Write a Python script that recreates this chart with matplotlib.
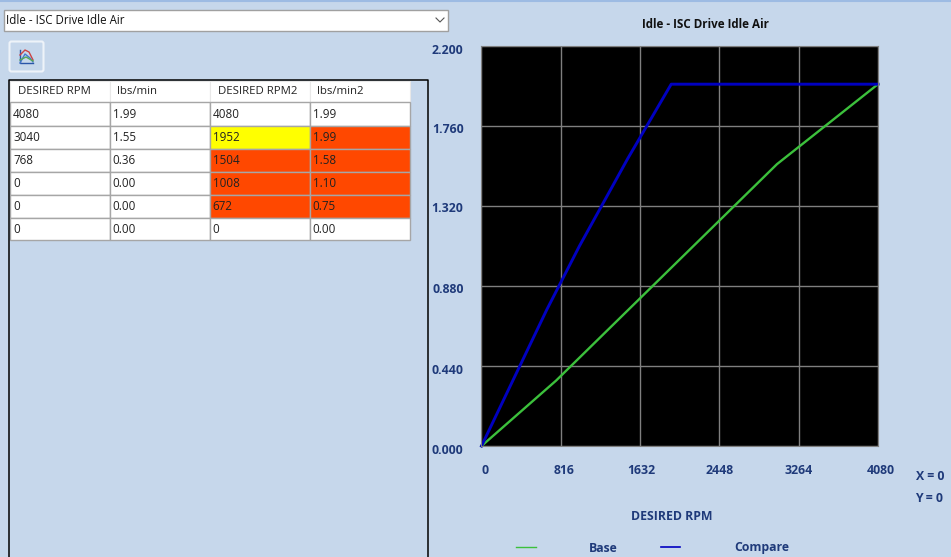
import matplotlib
matplotlib.use('Agg')
import matplotlib.pyplot as plt
from matplotlib.patches import Rectangle, FancyBboxPatch

plt.rcParams['font.family'] = ['Open Sans', 'DejaVu Sans']

columns = ['DESIRED RPM', 'lbs/min', 'DESIRED RPM2', 'lbs/min2']
rpm_base = [4080, 3040, 768, 0, 0, 0]
lbs_base = [1.99, 1.55, 0.36, 0.00, 0.00, 0.00]
rpm_compare = [4080, 1952, 1504, 1008, 672, 0]
lbs_compare = [1.99, 1.99, 1.58, 1.10, 0.75, 0.00]
rpm_colors = ['white', '#ffff00', '#ff4800', '#ff4800', '#ff4800', 'white']
lbs_colors = ['white', '#ff4800', '#ff4800', '#ff4800', '#ff4800', 'white']
x_ticks = [0, 816, 1632, 2448, 3264, 4080]
y_ticks = [0, 0.44, 0.88, 1.32, 1.76, 2.2]

W, H = 951, 557
bg = '#c6d7eb'
navy = '#1f3a7a'

fig = plt.figure(figsize=(W / 100, H / 100), dpi=100, facecolor=bg)

# overlay in pixel coordinates for the form controls and the table
ui = fig.add_axes([0, 0, 1, 1])
ui.set_xlim(0, W)
ui.set_ylim(H, 0)
ui.axis('off')

ui.plot([0, W], [0.5, 0.5], color='#9dbbe3', lw=1.5)

# combo box
ui.add_patch(Rectangle((3.5, 9.5), 444.5, 21.5, fc='white', ec='#a0a0a0', lw=1))
ui.text(6, 20, 'Idle - ISC Drive Idle Air', fontsize=8.3, va='center', color='#111111')
ui.plot([436, 440, 444], [18, 22, 18], color='#555555', lw=0.8)

# chart button
ui.add_patch(FancyBboxPatch((9.5, 41.5), 34, 30, boxstyle='round,pad=0,rounding_size=2',
                            fc=bg, ec='#eef3f9', lw=1.5))
ui.plot([20, 20, 33], [50, 63, 63], color='#2a55a8', lw=1)
ui.plot([20, 25, 29, 33], [55, 50, 52, 60], color='#cc4444', lw=1)
ui.plot([20, 25, 30, 33], [63, 54, 58, 62], color='#4477cc', lw=1)
ui.plot([20, 26, 33], [60, 57, 61], color='#55aa55', lw=1)

# table frame
ui.plot([8.5, 8.5, 427.5, 427.5], [H, 79.5, 79.5, H], color='black', lw=1.1)

col_x = [10, 109.5, 209.5, 309.5, 409.5]
row_y = [81, 102, 125.5, 148.5, 171.5, 194.5, 217.5, 240]
grid = '#a6a6a6'

for i, name in enumerate(columns):
    ui.add_patch(Rectangle((col_x[i], row_y[0]), col_x[i + 1] - col_x[i], row_y[1] - row_y[0],
                           fc='white', ec='#e8e8e8', lw=0.8))
    ui.text(col_x[i] + 8, 91.5, name, fontsize=8.2, va='center', color='#222222')

for r in range(len(rpm_base)):
    cells = [str(rpm_base[r]), '%.2f' % lbs_base[r], str(rpm_compare[r]), '%.2f' % lbs_compare[r]]
    fills = ['white', 'white', rpm_colors[r], lbs_colors[r]]
    for c in range(4):
        ui.add_patch(Rectangle((col_x[c], row_y[r + 1]), col_x[c + 1] - col_x[c],
                               row_y[r + 2] - row_y[r + 1], fc=fills[c], ec=grid, lw=1))
        ui.text(col_x[c] + 3, (row_y[r + 1] + row_y[r + 2]) / 2 + 0.5, cells[c],
                fontsize=8.4, va='center', color='#222222')

# chart
x0, x1, y0, y1 = 481.5, 878, 446, 46
ax = fig.add_axes([x0 / W, 1 - y0 / H, (x1 - x0) / W, (y0 - y1) / H], facecolor='black')
base_x = sorted(rpm_base)
base_y = sorted(lbs_base)
comp_x = sorted(rpm_compare)
comp_y = sorted(lbs_compare)
ax.plot(base_x, base_y, color='#3cc03c', lw=1.7, clip_on=False)
ax.plot(comp_x, comp_y, color='#0000c0', lw=2.1, clip_on=False)
ax.set_xlim(0, 4080)
ax.set_ylim(0, 2.2)
ax.set_xticks(x_ticks)
ax.set_yticks(y_ticks)
ax.set_xticklabels([])
ax.set_yticklabels([])
ax.tick_params(length=0)
ax.grid(True, color='#7f7f7f', lw=1)
ax.set_axisbelow(True)
for s in ax.spines.values():
    s.set_color('#808080')
    s.set_linewidth(0.8)

label_font = dict(fontsize=8.8, fontweight='bold', color=navy, va='center')
for t, py in zip(y_ticks, [450, 370, 289.5, 209, 129.5, 50.5]):
    ui.text(463.5, py, '%.3f' % t, ha='right', **label_font)
for t, px in zip(x_ticks, [485, 564.5, 641.5, 719.5, 799, 880.5]):
    ui.text(px, 470.5, str(t), ha='center', **label_font)

ui.text(672, 516.5, 'DESIRED RPM', ha='center', **label_font)
ui.text(705, 25, 'Idle - ISC Drive Idle Air', ha='center', va='center',
        fontsize=8.4, fontweight='bold', color='#111111')
ui.text(915.5, 476, 'X = 0', **label_font)
ui.text(915.5, 499, 'Y = 0', **label_font)

# legend
ui.plot([515.5, 535.5], [546.5, 546.5], color='#3cc03c', lw=1)
ui.text(603, 548, 'Base', ha='center', **label_font)
ui.plot([660.5, 680], [546.5, 546.5], color='#0000c0', lw=1.2)
ui.text(762, 548, 'Compare', ha='center', **label_font)

fig.savefig('out.png', dpi=100, facecolor=bg)
